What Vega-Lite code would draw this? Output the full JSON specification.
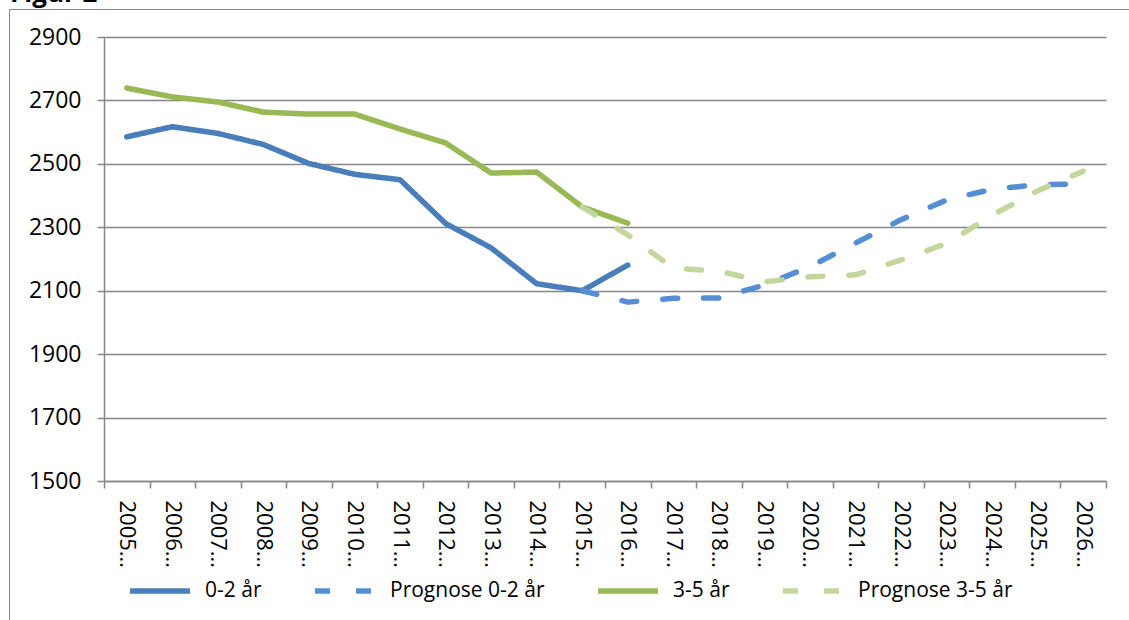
{
  "$schema": "https://vega.github.io/schema/vega-lite/v6.json",
  "autosize": {"type": "none"},
  "width": 1002,
  "height": 444,
  "padding": {"left": 104, "top": 37, "right": 23, "bottom": 139},
  "background": "white",
  "title": {"text": "Figur 2", "anchor": "start", "frame": "group", "fontSize": 26, "fontWeight": "bold", "font": "Open Sans", "color": "black", "dx": -94, "offset": 0, "baseline": "alphabetic", "dy": 19},
  "data": {"values": [
    {"year": "2005", "series": "0-2 år", "value": 2585},
    {"year": "2006", "series": "0-2 år", "value": 2617},
    {"year": "2007", "series": "0-2 år", "value": 2596},
    {"year": "2008", "series": "0-2 år", "value": 2561},
    {"year": "2009", "series": "0-2 år", "value": 2501},
    {"year": "2010", "series": "0-2 år", "value": 2467},
    {"year": "2011", "series": "0-2 år", "value": 2450},
    {"year": "2012", "series": "0-2 år", "value": 2312},
    {"year": "2013", "series": "0-2 år", "value": 2235},
    {"year": "2014", "series": "0-2 år", "value": 2122},
    {"year": "2015", "series": "0-2 år", "value": 2100},
    {"year": "2016", "series": "0-2 år", "value": 2181},
    {"year": "2015", "series": "Prognose 0-2 år", "value": 2100},
    {"year": "2016", "series": "Prognose 0-2 år", "value": 2064},
    {"year": "2017", "series": "Prognose 0-2 år", "value": 2076},
    {"year": "2018", "series": "Prognose 0-2 år", "value": 2077},
    {"year": "2019", "series": "Prognose 0-2 år", "value": 2118},
    {"year": "2020", "series": "Prognose 0-2 år", "value": 2176},
    {"year": "2021", "series": "Prognose 0-2 år", "value": 2250},
    {"year": "2022", "series": "Prognose 0-2 år", "value": 2324},
    {"year": "2023", "series": "Prognose 0-2 år", "value": 2386},
    {"year": "2024", "series": "Prognose 0-2 år", "value": 2420},
    {"year": "2025", "series": "Prognose 0-2 år", "value": 2434},
    {"year": "2026", "series": "Prognose 0-2 år", "value": 2437},
    {"year": "2005", "series": "3-5 år", "value": 2739},
    {"year": "2006", "series": "3-5 år", "value": 2711},
    {"year": "2007", "series": "3-5 år", "value": 2695},
    {"year": "2008", "series": "3-5 år", "value": 2663},
    {"year": "2009", "series": "3-5 år", "value": 2657},
    {"year": "2010", "series": "3-5 år", "value": 2657},
    {"year": "2011", "series": "3-5 år", "value": 2610},
    {"year": "2012", "series": "3-5 år", "value": 2566},
    {"year": "2013", "series": "3-5 år", "value": 2471},
    {"year": "2014", "series": "3-5 år", "value": 2474},
    {"year": "2015", "series": "3-5 år", "value": 2364},
    {"year": "2016", "series": "3-5 år", "value": 2313},
    {"year": "2015", "series": "Prognose 3-5 år", "value": 2364},
    {"year": "2016", "series": "Prognose 3-5 år", "value": 2276},
    {"year": "2017", "series": "Prognose 3-5 år", "value": 2171},
    {"year": "2018", "series": "Prognose 3-5 år", "value": 2162},
    {"year": "2019", "series": "Prognose 3-5 år", "value": 2128},
    {"year": "2020", "series": "Prognose 3-5 år", "value": 2144},
    {"year": "2021", "series": "Prognose 3-5 år", "value": 2150},
    {"year": "2022", "series": "Prognose 3-5 år", "value": 2197},
    {"year": "2023", "series": "Prognose 3-5 år", "value": 2249},
    {"year": "2024", "series": "Prognose 3-5 år", "value": 2338},
    {"year": "2025", "series": "Prognose 3-5 år", "value": 2415},
    {"year": "2026", "series": "Prognose 3-5 år", "value": 2477}
  ]},
  "mark": {"type": "line", "strokeWidth": 5.5, "strokeCap": "round", "strokeJoin": "round"},
  "encoding": {
    "x": {
      "field": "year", "type": "ordinal",
      "scale": {"type": "band", "paddingInner": 0, "paddingOuter": 0},
      "axis": {
        "title": null, "labelAngle": 90, "labelAlign": "left", "labelBaseline": "middle",
        "labelExpr": "datum.label ? datum.label + '…' : ''",
        "labelFont": "Open Sans", "labelFontSize": 22, "labelColor": "black",
        "labelPadding": 12, "tickBand": "extent", "tickSize": 7, "tickColor": "#868686", "tickWidth": 1.5,
        "domainColor": "#868686", "domainWidth": 1.5, "grid": false
      }
    },
    "y": {
      "field": "value", "type": "quantitative",
      "scale": {"domain": [1500, 2900], "nice": false, "zero": false},
      "axis": {
        "title": null, "values": [1500, 1700, 1900, 2100, 2300, 2500, 2700, 2900], "format": "d",
        "labelFont": "Open Sans", "labelFontSize": 23, "labelColor": "black", "labelPadding": 16,
        "tickSize": 7, "tickColor": "#868686", "tickWidth": 1.5,
        "domainColor": "#868686", "domainWidth": 1.5,
        "grid": true, "gridColor": "#868686", "gridWidth": 1.5
      }
    },
    "color": {
      "field": "series", "type": "nominal",
      "scale": {"domain": ["0-2 år", "Prognose 0-2 år", "3-5 år", "Prognose 3-5 år"], "range": ["#4a7ebb", "#558ed5", "#98b954", "#c3d69b"]},
      "legend": {
        "title": "\u00a0\u00a0\u00a0\u00a0\u00a0\u00a0\u00a0\u00a0\u00a0\u00a0\u00a0\u00a0\u00a0\u00a0\u00a0\u00a0\u00a0\u00a0\u00a0\u00a0",
        "titleFontSize": 60, "titleFont": "Open Sans", "titlePadding": 371, "titleLimit": 3000,
        "orient": "none", "direction": "horizontal", "legendX": -95, "legendY": -28,
        "padding": 118, "strokeColor": "#878787",
        "symbolType": "stroke", "symbolSize": 3600, "symbolStrokeWidth": 5.5,
        "labelFont": "Open Sans", "labelFontSize": 21, "labelColor": "black", "labelOffset": 12,
        "columnPadding": 42, "labelLimit": 300
      }
    },
    "strokeDash": {
      "field": "series", "type": "nominal",
      "scale": {"domain": ["0-2 år", "Prognose 0-2 år", "3-5 år", "Prognose 3-5 år"], "range": [[1, 0], [15, 26], [1, 0], [15, 26]]},
      "legend": null
    }
  },
  "config": {"view": {"stroke": null}}
}
